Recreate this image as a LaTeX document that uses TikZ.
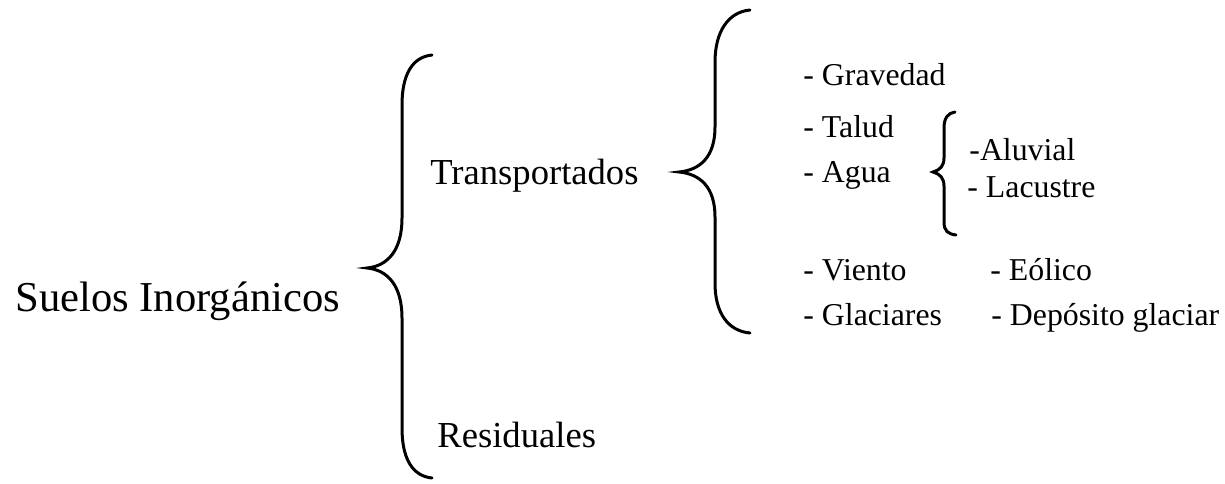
\documentclass[tikz,border=0pt]{standalone}
\usepackage{fontspec}
\setmainfont{Liberation Serif}
\begin{document}
\begin{tikzpicture}[x=0.5pt,y=-0.5pt]
      \tikzstyle{every node} = [anchor=base west, inner sep=0pt]
      \tikzstyle{brace} = [line width=1.5pt, line cap=round]
      \useasboundingbox (0,0) rectangle (1225,483);

      \node(suelos) at (15,311) {\fontsize{21.3}{24}\selectfont Suelos Inorgánicos};
      \node(transp) at (430,184) {\fontsize{18.3}{22}\selectfont Transportados};
      \node(resid) at (437,447) {\fontsize{18.3}{22}\selectfont Residuales};

      \foreach \name/\y/\txt in {grav/85/Gravedad, talud/137/Talud, agua/182/Agua,
                                 viento/280/Viento, glac/325/Glaciares}{
          \node(\name) at (803,\y) {\fontsize{15.9}{19}\selectfont - \txt};
      }
      \node(aluv) at (969,160) {\fontsize{15.9}{19}\selectfont -Aluvial};
      \node(lacus) at (967,197) {\fontsize{15.9}{19}\selectfont - Lacustre};
      \node(eolico) at (990,280) {\fontsize{15.9}{19}\selectfont - Eólico};
      \node(depos) at (991,325) {\fontsize{15.9}{19}\selectfont - Depósito glaciar};

      % big brace
      \draw[brace] (432,55) .. controls (412,57) and (402,75) .. (402,105)
        -- (402,218) .. controls (402,250) and (388,266) .. (367,268)
        .. controls (388,270) and (402,286) .. (402,318)
        -- (402,428) .. controls (402,458) and (412,476) .. (432,478);
      % brace of Transportados
      \draw[brace] (750,10) .. controls (728,12) and (715,32) .. (715,62)
        -- (715,127) .. controls (715,157) and (700,170) .. (679,172)
        .. controls (700,174) and (715,187) .. (715,217)
        -- (715,283) .. controls (715,313) and (728,331) .. (750,333);
      % brace of Agua
      \draw[brace] (955,112) .. controls (948,113) and (944,118) .. (944,128)
        -- (944,158) .. controls (944,166) and (940,170) .. (933,172)
        .. controls (940,174) and (944,178) .. (944,186)
        -- (944,222) .. controls (944,231) and (948,234) .. (956,235);
    \end{tikzpicture}
\end{document}
